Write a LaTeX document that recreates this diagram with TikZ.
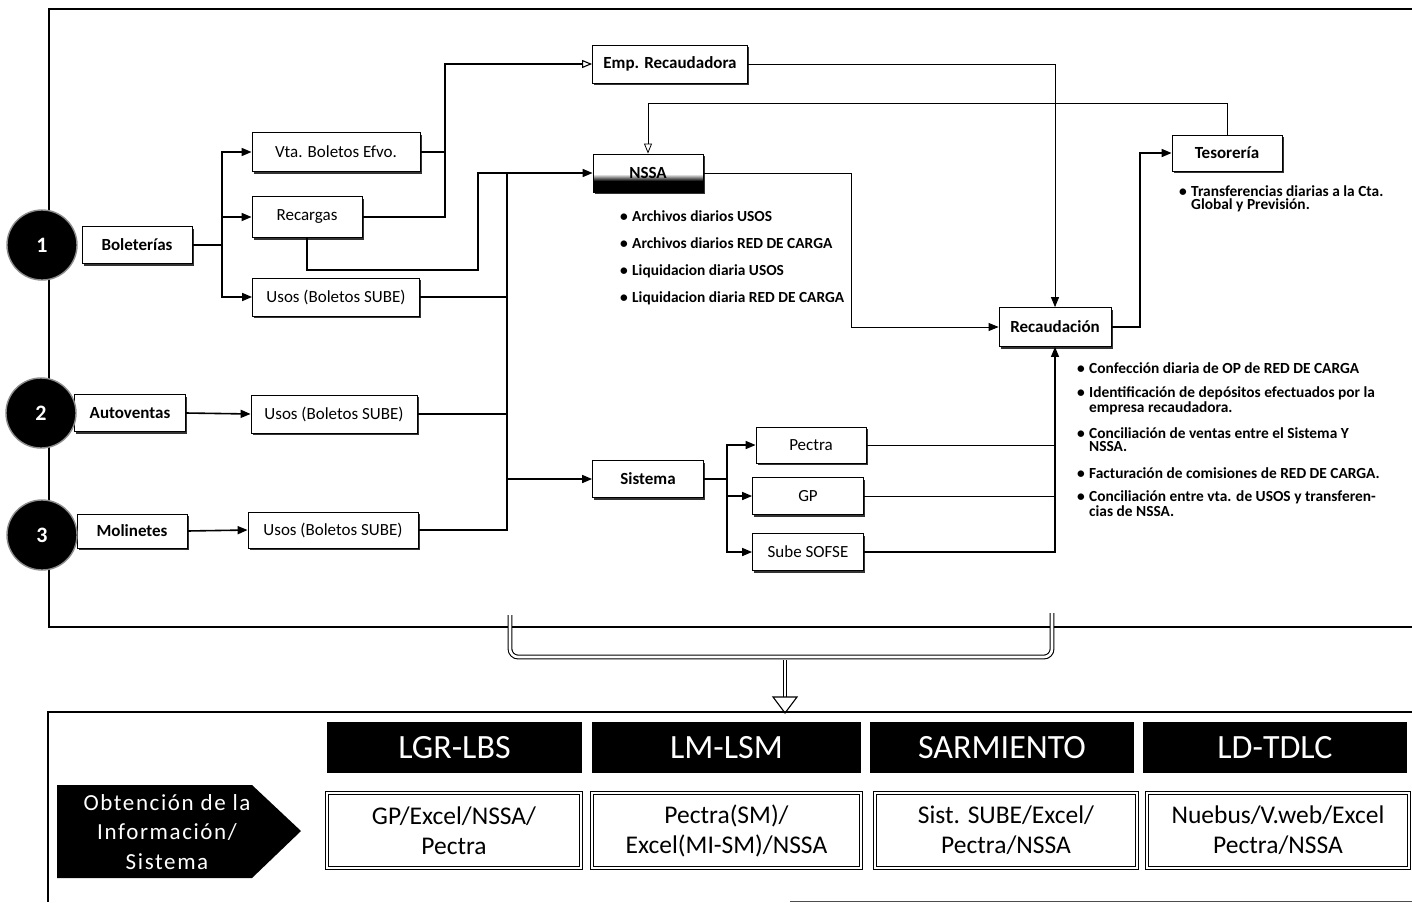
\documentclass[tikz,border=0pt]{standalone}
\usepackage{fontspec}
\setmainfont{Carlito}
\usetikzlibrary{arrows.meta,shadows}
\newcommand\blt{\makebox[12pt][l]{\textbullet}}
\newcommand\ind{\hspace*{12pt}}

\begin{document}
\begin{tikzpicture}[x=1pt,y=-1pt,
  box/.style={draw=black, line width=0.8pt, fill=white, inner sep=0pt,
    font=\fontsize{17}{20}\selectfont,
    drop shadow={shadow xshift=1.8pt, shadow yshift=-2.4pt, fill=black!80, opacity=1}},
  boldbox/.style={box, font=\fontsize{17}{20}\selectfont\bfseries},
  numdisc/.style={circle, fill=black, draw=black!45, line width=1.4pt, minimum size=70pt,
    inner sep=0pt, text=white, font=\fontsize{22}{24}\selectfont\bfseries},
  heavy/.style={line width=1.6pt},
  medium/.style={line width=1.1pt},
  light/.style={line width=0.8pt},
  tip/.style={-{Triangle[length=10pt,width=8pt]}},
  opentip/.style={-{Triangle[open,length=10pt,width=8pt,fill=white]}},
  note/.style={anchor=base west, align=left, inner sep=0pt,
    font=\fontsize{15.4}{13}\selectfont\bfseries},
  hdr/.style={fill=black, text=white, inner sep=0pt, font=\fontsize{34}{36}\selectfont},
  cell/.style={draw=black, line width=1.1pt, double=white, double distance=1.4pt,
    inner sep=0pt, align=center, font=\fontsize{25.5}{30}\selectfont},
]
\useasboundingbox (0,0) rectangle (1412,902);
\fill[white] (0,0) rectangle (1412,902);

% upper frame
\draw[line width=1.2pt] (1412,9) -- (49,9) -- (49,627) -- (1412,627);

% process boxes
\node[boldbox, minimum width=110pt, minimum height=37pt] (bol) at (137,245) {Boleterías};
\node[box, minimum width=168pt, minimum height=39pt] (vta) at (336,152) {Vta. Boletos Efvo.};
\node[box, minimum width=110pt, minimum height=41pt] (rec) at (307,217) {Recargas};
\node[box, minimum width=167pt, minimum height=38pt] (us1) at (336,297) {Usos (Boletos SUBE)};
\node[boldbox, minimum width=111pt, minimum height=37pt] (auto) at (130,413) {Autoventas};
\node[box, minimum width=166pt, minimum height=38pt] (us2) at (334,414) {Usos (Boletos SUBE)};
\node[boldbox, minimum width=110pt, minimum height=34pt] (mol) at (132,531) {Molinetes};
\node[box, minimum width=170pt, minimum height=36pt] (us3) at (333,530) {Usos (Boletos SUBE)};
\node[boldbox, minimum width=155pt, minimum height=38pt] (emp) at (670,64) {Emp. Recaudadora};
\node[boldbox, minimum width=110pt, minimum height=38pt,
  path picture={
    \fill[black] (path picture bounding box.south west) rectangle ([yshift=11pt]path picture bounding box.south east);
    \shade[top color=white, bottom color=black] ([yshift=11pt]path picture bounding box.south west) rectangle ([yshift=18pt]path picture bounding box.south east);
  }] (nssa) at (648,173) {NSSA};
\node[boldbox, minimum width=111pt, minimum height=37pt] (sis) at (648,479) {Sistema};
\node[box, minimum width=110pt, minimum height=36pt] (pec) at (811,445) {Pectra};
\node[box, minimum width=111pt, minimum height=37pt] (gp) at (808,496) {GP};
\node[box, minimum width=111pt, minimum height=37pt] (sube) at (808,552) {Sube SOFSE};
\node[boldbox, minimum width=112pt, minimum height=39pt] (recd) at (1055,327) {Recaudación};
\node[boldbox, minimum width=110pt, minimum height=36pt] (tes) at (1227,153) {Tesorería};

% numbered discs
\node[numdisc] (k1) at (42,245) {1};
\node[numdisc] (k2) at (41,413) {2};
\node[numdisc] (k3) at (42,535) {3};

% Boleterias branches
\coordinate (jb) at (222,245);
\draw[heavy] (bol.east) -- (jb);
\draw[heavy,tip] (jb) |- (vta.west);
\draw[heavy,tip] (jb) |- (rec.west);
\draw[heavy,tip] (jb) |- (us1.west);
\draw[heavy,tip] (auto.east) -- (us2.west);
\draw[heavy,tip] (mol.east) -- (us3.west);

% cash flows to the collecting company
\coordinate (je) at (445,64);
\draw[medium,opentip] (vta.east) -| (je) -- (emp.west);
\draw[heavy] (rec.east) -| (je);

% top-ups and uses to NSSA / Sistema
\coordinate (jr) at (478,270);
\draw[heavy,tip] (rec.south) |- (jr) |- (nssa.west);
\coordinate (jt) at (507,173);
\coordinate (jm) at (507,479);
\draw[heavy] (us1.east) -- (us1.east -| jt);
\draw[heavy] (us2.east) -- (us2.east -| jt);
\draw[line width=2.2pt] (us3.east) -| (jt);
\draw[heavy,tip] (jm) -- (sis.west);

% Sistema branches
\coordinate (js) at (727,479);
\draw[heavy] (sis.east) -- (js);
\draw[heavy,tip] (js) |- (pec.west);
\draw[heavy,tip] (js) |- (gp.west);
\draw[heavy,tip] (js) |- (sube.west);

% flows into Recaudacion
\draw[light] (pec.east) -- (pec.east -| recd.south);
\draw[light] (gp.east) -- (gp.east -| recd.south);
\draw[medium,tip] (sube.east) -| (recd.south);
\draw[light,tip] (emp.east) -| (recd.north);
\coordinate (jn) at (851,173);
\draw[light,tip] (nssa.east) -- (jn) |- (recd.west);
\coordinate (jq) at (1140,153);
\draw[heavy,tip] (recd.east) -| (jq) -- (tes.west);
\coordinate (jf) at (1227,103);
\draw[light,opentip] (tes.north) -- (jf) -| (nssa.north);

% notes (base anchor sits on the last line of each note)
\node[note] (nn1) at (620,221) {\blt Archivos diarios USOS};
\node[note] (nn2) at (620,248) {\blt Archivos diarios RED DE CARGA};
\node[note] (nn3) at (620,275) {\blt Liquidacion diaria USOS};
\node[note] (nn4) at (620,302) {\blt Liquidacion diaria RED DE CARGA};
\node[note] (tn1) at (1179,209) {\blt Transferencias diarias a la Cta.\\\ind Global y Previsión.};
\node[note] (rn1) at (1077,373) {\blt Confección diaria de OP de RED DE CARGA};
\node[note] (rn2) at (1077,412) {\blt Identificación de depósitos efectuados por la\\\ind empresa recaudadora.};
\node[note] (rn3) at (1077,451) {\blt Conciliación de ventas entre el Sistema Y\\\ind NSSA.};
\node[note] (rn4) at (1077,478) {\blt Facturación de comisiones de RED DE CARGA.};
\node[note] (rn5) at (1077,516) {\blt Conciliación entre vta. de USOS y transferen-\\\ind cias de NSSA.};

% bracket gathering the flow into the summary table
\coordinate (bl) at (510,615);
\coordinate (br) at (1052,613);
\coordinate (st) at (785,660);
\coordinate (sb) at (785,698);
\coordinate (sa) at (785,713);
\draw[line width=1.1pt, double=white, double distance=2.6pt, rounded corners=8pt]
  (bl) -- (510,657) -- (1052,657) -- (br);
\draw[line width=1.1pt, double=white, double distance=2.6pt] (st) -- (sb);
\filldraw[fill=white, line width=1.1pt] (773,697) -- (797,697) -- (sa) -- cycle;

% lower frame
\draw[line width=1.2pt] (1412,712) -- (48,712) -- (48,902);
\draw[line width=0.8pt, black!70] (790,901) -- (1412,901);

% line headers
\node[hdr, minimum width=255pt, minimum height=51pt] (h1) at (454.5,747.5) {LGR-LBS};
\node[hdr, minimum width=269pt, minimum height=51pt] (h2) at (726.5,747.5) {LM-LSM};
\node[hdr, minimum width=264pt, minimum height=51pt] (h3) at (1002,747.5) {SARMIENTO};
\node[hdr, minimum width=264pt, minimum height=51pt] (h4) at (1275,747.5) {LD-TDLC};

% information sources
\node[cell, minimum width=254pt, minimum height=75pt] (c1) at (454,830.5) {GP/Excel/NSSA/\\Pectra};
\node[cell, minimum width=269pt, minimum height=75pt] (c2) at (726.5,830.5) {Pectra(SM)/\\Excel(MI-SM)/NSSA};
\node[cell, minimum width=262pt, minimum height=75pt] (c3) at (1006,830.5) {Sist. SUBE/Excel/\\Pectra/NSSA};
\node[cell, minimum width=262pt, minimum height=75pt] (c4) at (1278,830.5) {Nuebus/V.web/Excel\\Pectra/NSSA};

% row label arrow
\fill[black] (57,785) -- (252,785) -- (301,831) -- (252,878) -- (57,878) -- cycle;
\node[text=white, align=center, inner sep=0pt,
  font=\fontsize{23}{29.5}\selectfont\addfontfeature{LetterSpace=7}] (obt) at (167,832)
  {Obtención de la\\Información/\\Sistema};
\end{tikzpicture}
\end{document}
